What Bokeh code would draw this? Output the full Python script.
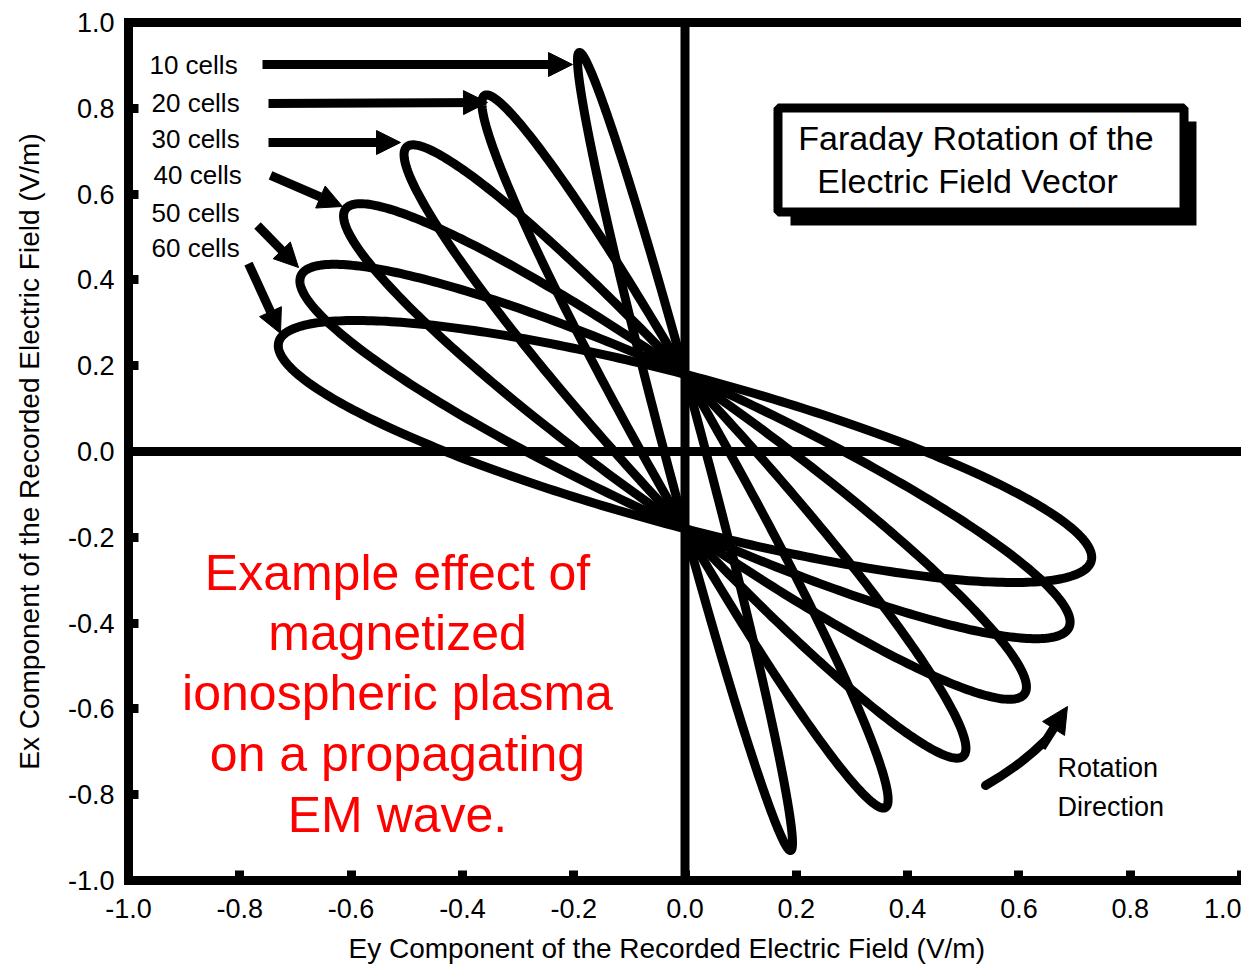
import numpy as np
from bokeh.plotting import figure
from bokeh.models import (Span, Label, Arrow, NormalHead, BoxAnnotation,
                          LinearAxis, FixedTicker, ColumnDataSource, Title)
from bokeh.embed import file_html
from bokeh.resources import INLINE

# ---------------- data ----------------
cell_labels = ["10 cells", "20 cells", "30 cells", "40 cells", "50 cells", "60 cells"]
# Ey / Ex of the upper-left tip of each polarisation loop (V/m)
tip_ey = [-0.19, -0.36, -0.50, -0.61, -0.69, -0.73]
tip_ex = [0.93, 0.83, 0.71, 0.565, 0.41, 0.255]
# Ex value where each loop crosses Ey = 0 (V/m)
cross_ex = [0.18, 0.18, 0.18, 0.18, 0.18, 0.18]

tick_values = [-1.0, -0.8, -0.6, -0.4, -0.2, 0.0, 0.2, 0.4, 0.6, 0.8, 1.0]
tick_labels = ["-1.0", "-0.8", "-0.6", "-0.4", "-0.2", "0.0", "0.2", "0.4", "0.6", "0.8", "1.0"]

title_lines = ["Faraday Rotation of the", "Electric Field Vector"]
note_lines = ["Example effect of", "magnetized", "ionospheric plasma",
              "on a propagating", "EM wave."]
rot_lines = ["Rotation", "Direction"]
x_title = "Ey Component of the Recorded Electric Field (V/m)"
y_title = "Ex Component of the Recorded Electric Field (V/m)"

# ---------------- layout constants ----------------
W, H = 1241, 976
LEFT, TOP, BOTTOM = 128, 22, 96
FONT = "Liberation Sans"
KX = (W - LEFT) / 2.0          # px per unit on x
KY = (H - TOP - BOTTOM) / 2.0  # px per unit on y


def loop_outline(tx, ty, c, n=361):
    """Closed elliptical loop centred on origin with vertex (tx,ty),
    passing through (0, +-c); computed in screen-isotropic space."""
    ax, ay = tx * KX, ty * KY
    L = np.hypot(ax, ay)
    ux, uy = ax / L, ay / L
    nx, ny = -uy, ux
    py = c * KY
    p_ = py * uy
    q_ = py * ny
    s = abs(q_) / np.sqrt(1 - (p_ / L) ** 2)
    t = np.linspace(0, 2 * np.pi, n)
    X = L * np.cos(t) * ux + s * np.sin(t) * nx
    Y = L * np.cos(t) * uy + s * np.sin(t) * ny
    return list(X / KX), list(Y / KY)


xs, ys = [], []
for tx, ty, c in zip(tip_ey, tip_ex, cross_ex):
    lx, ly = loop_outline(tx, ty, c)
    xs.append(lx)
    ys.append(ly)
src = ColumnDataSource(dict(xs=xs, ys=ys, name=cell_labels))

p = figure(width=W, height=H, x_range=(-1.0, 1.0), y_range=(-1.0, 1.0),
           output_backend="svg", toolbar_location=None,
           min_border_left=LEFT, min_border_right=0,
           min_border_top=TOP, min_border_bottom=BOTTOM)
p.grid.visible = False
p.outline_line_color = None
p.background_fill_color = "white"
p.border_fill_color = "white"

for ax in p.axis:
    ax.ticker = FixedTicker(ticks=tick_values)
    ax.major_label_overrides = {v: s for v, s in zip(tick_values, tick_labels)}
    ax.axis_line_width = 9
    ax.axis_line_cap = "square"
    ax.major_tick_in = 10
    ax.major_tick_out = 0
    ax.major_tick_line_width = 9
    ax.minor_tick_line_color = None
    ax.major_label_text_font = FONT
    ax.major_label_text_font_size = "27px"
    ax.major_label_text_color = "black"

p.xaxis.major_label_standoff = 18
p.yaxis.major_label_standoff = 14
p.yaxis.axis_label = y_title
p.yaxis.axis_label_text_font = FONT
p.yaxis.axis_label_text_font_size = "28px"
p.yaxis.axis_label_text_font_style = "normal"
p.yaxis.axis_label_text_color = "black"
p.yaxis.axis_label_standoff = 20

top_axis = LinearAxis(ticker=FixedTicker(ticks=[]), axis_line_width=9,
                      axis_line_cap="square", major_tick_line_color=None,
                      minor_tick_line_color=None,
                      major_label_text_font_size="0px")
p.add_layout(top_axis, "above")

# x-axis title, placed as a below-panel title so it can sit left of centre
p.add_layout(Title(text=x_title, align="left", offset=220, text_font=FONT,
                   text_font_size="28px", text_font_style="normal",
                   text_color="black", standoff=21, text_line_height=0.8), "below")

p.add_layout(Span(location=0, dimension="width", line_color="black", line_width=9))
p.add_layout(Span(location=0, dimension="height", line_color="black", line_width=9))

p.multi_line(xs="xs", ys="ys", source=src, line_color="black", line_width=9,
             line_join="round", line_cap="round")

# loop labels + arrows
label_x = [-0.9623, -0.9587, -0.9587, -0.955, -0.9587, -0.9587]
label_y = [0.9005, 0.8112, 0.7296, 0.6434, 0.5571, 0.4732]
for txt, lx, ly in zip(cell_labels, label_x, label_y):
    p.add_layout(Label(x=lx, y=ly, text=txt, text_font=FONT, text_font_size="26px",
                       text_align="left", text_baseline="middle",
                       text_color="black"))

arrows = [(-0.7592, 0.9021, -0.2022, 0.9021),
          (-0.7484, 0.8112, -0.3549, 0.8136),
          (-0.7484, 0.7203, -0.5112, 0.7203),
          (-0.7448, 0.6434, -0.6155, 0.5711),
          (-0.7682, 0.5268, -0.6945, 0.4289),
          (-0.7844, 0.4382, -0.7269, 0.2751)]
for x0, y0, x1, y1 in arrows:
    p.add_layout(Arrow(end=NormalHead(size=24, fill_color="black", line_color="black"),
                       x_start=x0, y_start=y0, x_end=x1, y_end=y1,
                       line_color="black", line_width=9))

# title box with drop shadow
p.add_layout(BoxAnnotation(left=0.1896, right=0.9191, top=0.7692, bottom=0.5268,
                           fill_color="black", fill_alpha=1.0, line_color=None))
p.add_layout(BoxAnnotation(left=0.1671, right=0.8967, top=0.8007, bottom=0.5583,
                           fill_color="white", fill_alpha=1.0, line_color="black",
                           line_width=9, line_alpha=1.0))
for txt, tx, ty in zip(title_lines, [0.5229, 0.5076], [0.7319, 0.6294]):
    p.add_layout(Label(x=tx, y=ty, text=txt, text_font=FONT, text_font_size="34px",
                       text_align="center", text_baseline="middle",
                       text_color="black"))

# red note
for txt, ty in zip(note_lines, [-0.2832, -0.4231, -0.5641, -0.7040, -0.8473]):
    p.add_layout(Label(x=-0.5166, y=ty, text=txt, text_font=FONT, text_font_size="50px",
                       text_align="center", text_baseline="middle",
                       text_color="#FF0000"))

# rotation direction
p.quadratic(x0=[0.540], y0=[-0.7786], x1=[0.6478], y1=[-0.6737],
            cx=[0.6029], cy=[-0.7319], line_color="black", line_width=9,
            line_cap="round")
p.add_layout(Arrow(end=NormalHead(size=26, fill_color="black", line_color="black"),
                   x_start=0.6406, y_start=-0.6900, x_end=0.6873, y_end=-0.5944,
                   line_color="black", line_width=9))
for txt, ty in zip(rot_lines, [-0.7389, -0.8298]):
    p.add_layout(Label(x=0.6694, y=ty, text=txt, text_font=FONT, text_font_size="27px",
                       text_align="left", text_baseline="middle",
                       text_color="black"))

open("out.html", "w").write(file_html(p, INLINE))
